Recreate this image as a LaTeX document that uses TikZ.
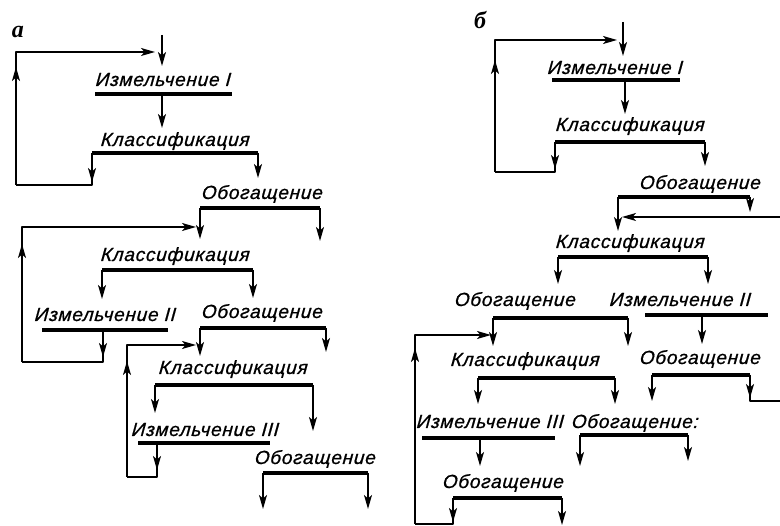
\documentclass[tikz,border=0pt]{standalone}
\usepackage{fontspec}
\usepackage{tikz}
\usetikzlibrary{arrows.meta}
\newfontfamily\gost[LetterSpace=4,FakeBold=0.8,FakeSlant=0.08]{Liberation Sans}
\newfontfamily\tagfont{Liberation Serif}

\begin{document}
\begin{tikzpicture}[x=1pt,y=-1pt,line join=round,
  lbl/.style={anchor=base,inner sep=1pt,font=\gost\itshape\fontsize{19}{21}\selectfont},
  tag/.style={inner sep=1pt,font=\tagfont\bfseries\itshape\fontsize{24}{26}\selectfont},
  bar/.style={line width=3.2pt},
  flow/.style={line width=1.6pt},
  arr/.style={flow,-{Stealth[length=14pt,width=8pt,inset=3.5pt]}}]
  \useasboundingbox (0,0) rectangle (780,526);
  % --- scheme a ---
  \node[tag] (ta) at (18,32) {а};
  \node[lbl] (a1) at (163,86) {Измельчение I};
  \node[lbl] (a2) at (175,146) {Классификация};
  \node[lbl] (a3) at (262,199) {Обогащение};
  \node[lbl] (a4) at (175,261) {Классификация};
  \node[lbl] (a5) at (105,321) {Измельчение II};
  \node[lbl] (a6) at (262,318) {Обогащение};
  \node[lbl] (a7) at (233,374) {Классификация};
  \node[lbl] (a8) at (205,436) {Измельчение III};
  \node[lbl] (a9) at (315,464) {Обогащение};
  \coordinate (fa) at (162,35);
  \coordinate (a1c) at (162,94);
  \coordinate (a2l) at (92,153);  \coordinate (a2r) at (258,153);
  \coordinate (a3l) at (200,208); \coordinate (a3r) at (320,208);
  \coordinate (a4l) at (102,270); \coordinate (a4r) at (253,270);
  \coordinate (a5c) at (103,330);
  \coordinate (a6l) at (200,328); \coordinate (a6r) at (326,328);
  \coordinate (a7l) at (155,385); \coordinate (a7r) at (313,385);
  \coordinate (a8c) at (157,443);
  \coordinate (a9l) at (263,473); \coordinate (a9r) at (368,473);
  \coordinate (ra1) at (16,185);  \coordinate (ra1t) at (155,52);
  \coordinate (ra2) at (22,362);  \coordinate (ra2t) at (196,227);
  \coordinate (ra3) at (127,477); \coordinate (ra3t) at (196,345);
  \draw[bar] (95,94) -- (232,94);
  \draw[bar] (a2l) -- (a2r);
  \draw[bar] (a3l) -- (a3r);
  \draw[bar] (a4l) -- (a4r);
  \draw[bar] (42,330) -- (168,330);
  \draw[bar] (a6l) -- (a6r);
  \draw[bar] (a7l) -- (a7r);
  \draw[bar] (138,443) -- (270,443);
  \draw[bar] (a9l) -- (a9r);
  \draw[arr] (fa) -- ++(0,31);
  \draw[arr] (a1c) -- ++(0,34);
  \draw[arr] (a2l) -- ++(0,29);
  \draw[arr] (a2r) -- ++(0,25);
  \draw[arr] (a3l) -- ++(0,31);
  \draw[arr] (a3r) -- ++(0,33);
  \draw[arr] (a4l) -- ++(0,29);
  \draw[arr] (a4r) -- ++(0,28);
  \draw[arr] (a5c) -- ++(0,27);
  \draw[arr] (a6l) -- ++(0,28);
  \draw[arr] (a6r) -- ++(0,24);
  \draw[arr] (a7l) -- ++(0,28);
  \draw[arr] (a7r) -- ++(0,46);
  \draw[arr] (a8c) -- ++(0,27);
  \draw[arr] (a9l) -- ++(0,36);
  \draw[arr] (a9r) -- ++(0,36);
  \draw[flow] (a2l) |- (ra1);
  \draw[arr] (ra1) -- ++(0,-118);
  \draw[arr] (ra1) |- (ra1t);
  \draw[flow] (a5c) |- (ra2);
  \draw[arr] (ra2) -- ++(0,-118);
  \draw[arr] (ra2) |- (ra2t);
  \draw[flow] (a8c) |- (ra3);
  \draw[arr] (ra3) -- ++(0,-116);
  \draw[arr] (ra3) |- (ra3t);
  % --- scheme b ---
  \node[tag] (tb) at (480,20) {б};
  \node[lbl] (b1) at (615,74) {Измельчение I};
  \node[lbl] (b2) at (630,131) {Классификация};
  \node[lbl] (b3) at (700,189) {Обогащение};
  \node[lbl] (b4) at (630,248) {Классификация};
  \node[lbl] (b5) at (515,306) {Обогащение};
  \node[lbl] (b6) at (680,306) {Измельчение II};
  \node[lbl] (b7) at (525,366) {Классификация};
  \node[lbl] (b8) at (700,364) {Обогащение};
  \node[lbl] (b9) at (490,428) {Измельчение III};
  \node[lbl] (b10) at (635,428) {Обогащение:};
  \node[lbl] (b11) at (503,488) {Обогащение};
  \coordinate (fb) at (623,22);
  \coordinate (b1c) at (625,80);
  \coordinate (b2l) at (555,142); \coordinate (b2r) at (705,142);
  \coordinate (b3l) at (618,197); \coordinate (b3r) at (750,197);
  \coordinate (b4l) at (558,257); \coordinate (b4r) at (708,257);
  \coordinate (b5l) at (493,318); \coordinate (b5r) at (628,318);
  \coordinate (b6c) at (702,315);
  \coordinate (b7l) at (478,378); \coordinate (b7r) at (615,378);
  \coordinate (b8l) at (652,375); \coordinate (b8r) at (750,375);
  \coordinate (b9c) at (480,438);
  \coordinate (b10l) at (580,435); \coordinate (b10r) at (688,435);
  \coordinate (b11l) at (453,498); \coordinate (b11r) at (562,498);
  \coordinate (rb1) at (495,172); \coordinate (rb1t) at (617,40);
  \coordinate (rb2) at (415,524); \coordinate (rb2t) at (491,335);
  \coordinate (eb1) at (780,217); \coordinate (eb1t) at (622,217);
  \coordinate (eb2) at (780,401);
  \draw[bar] (552,80) -- (680,80);
  \draw[bar] (b2l) -- (b2r);
  \draw[bar] (b3l) -- (b3r);
  \draw[bar] (b4l) -- (b4r);
  \draw[bar] (b5l) -- (b5r);
  \draw[bar] (645,315) -- (768,315);
  \draw[bar] (b7l) -- (b7r);
  \draw[bar] (b8l) -- (b8r);
  \draw[bar] (422,438) -- (555,438);
  \draw[bar] (b10l) -- (b10r);
  \draw[bar] (b11l) -- (b11r);
  \draw[arr] (fb) -- ++(0,34);
  \draw[arr] (b1c) -- ++(0,34);
  \draw[arr] (b2l) -- ++(0,27);
  \draw[arr] (b2r) -- ++(0,24);
  \draw[arr] (b3l) -- ++(0,34);
  \draw[arr] (b3r) -- ++(0,15);
  \draw[arr] (b4l) -- ++(0,27);
  \draw[arr] (b4r) -- ++(0,27);
  \draw[arr] (b5l) -- ++(0,28);
  \draw[arr] (b5r) -- ++(0,28);
  \draw[arr] (b6c) -- ++(0,29);
  \draw[arr] (b7l) -- ++(0,26);
  \draw[arr] (b7r) -- ++(0,26);
  \draw[arr] (b8l) -- ++(0,26);
  \draw[arr] (b8r) -- ++(0,23);
  \draw[arr] (b9c) -- ++(0,28);
  \draw[arr] (b10l) -- ++(0,31);
  \draw[arr] (b10r) -- ++(0,26);
  \draw[arr] (b11l) -- ++(0,24);
  \draw[arr] (b11r) -- ++(0,27);
  \draw[flow] (b2l) |- (rb1);
  \draw[arr] (rb1) -- ++(0,-112);
  \draw[arr] (rb1) |- (rb1t);
  \draw[flow] (b11l) |- (rb2);
  \draw[arr] (rb2) -- ++(0,-176);
  \draw[arr] (rb2) |- (rb2t);
  \draw[flow] (b8r) |- (eb2);
  \draw[arr] (eb1) -- (eb1t);
\end{tikzpicture}
\end{document}
